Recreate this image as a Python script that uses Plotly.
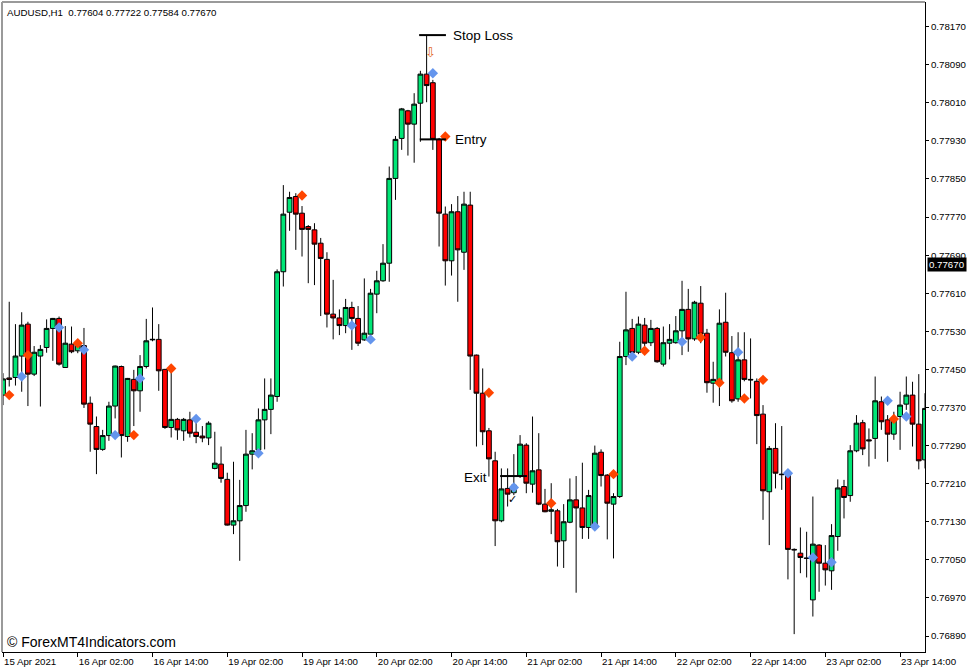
import plotly.graph_objects as go

# ---------------- data (AUDUSD H1) ----------------
bar_index = list(range(149))

opens = [0.77396,0.77432,0.77433,0.77478,0.77545,0.77440,0.77478,0.77496,0.77536,0.77557,
0.77454,0.77503,0.77489,0.77500,0.77379,0.77330,0.77282,0.77311,0.77373,0.77456,
0.77309,0.77429,0.77405,0.77456,0.77512,0.77513,0.77450,0.77328,0.77345,0.77321,
0.77344,0.77318,0.77310,0.77306,0.77242,0.77251,0.77219,0.77123,0.77132,0.77164,
0.77272,0.77281,0.77344,0.77366,0.77393,0.77655,0.77780,0.77813,0.77778,0.77750,
0.77743,0.77715,0.77681,0.77566,0.77558,0.77542,0.77580,0.77557,0.77512,0.77524,
0.77608,0.77636,0.77673,0.77851,0.77935,0.77993,0.77965,0.78009,0.78070,0.78052,
0.77933,0.77776,0.77678,0.77781,0.77696,0.77795,0.77480,0.77400,0.77321,0.77258,
0.77132,0.77200,0.77191,0.77226,0.77291,0.77209,0.77239,0.77167,0.77152,0.77153,
0.77090,0.77129,0.77176,0.77159,0.77118,0.77118,0.77276,0.77228,0.77167,0.77183,
0.77477,0.77536,0.77486,0.77543,0.77506,0.77536,0.77461,0.77505,0.77506,0.77531,
0.77576,0.77514,0.77589,0.77526,0.77421,0.77422,0.77549,0.77485,0.77388,0.77470,
0.77429,0.77425,0.77356,0.77193,0.77284,0.77230,0.77232,0.77072,0.77064,0.77054,
0.76966,0.77081,0.77043,0.77027,0.77099,0.77204,0.77185,0.77279,0.77338,0.77302,
0.77305,0.77382,0.77344,0.77314,0.77351,0.77377,0.77396,0.77335,0.77260]

highs = [0.77442,0.77592,0.77545,0.77570,0.77550,0.77499,0.77501,0.77555,0.77558,0.77561,
0.77541,0.77540,0.77512,0.77537,0.77393,0.77351,0.77323,0.77382,0.77458,0.77458,
0.77432,0.77449,0.77480,0.77556,0.77580,0.77545,0.77451,0.77452,0.77348,0.77348,
0.77361,0.77341,0.77331,0.77341,0.77319,0.77288,0.77233,0.77256,0.77218,0.77323,
0.77316,0.77368,0.77431,0.77431,0.77660,0.77837,0.77823,0.77820,0.77793,0.77753,
0.77757,0.77726,0.77696,0.77638,0.77576,0.77598,0.77592,0.77583,0.77641,0.77619,
0.77657,0.77713,0.77876,0.77940,0.77999,0.77995,0.78030,0.78077,0.78152,0.78058,
0.77936,0.77792,0.77797,0.77814,0.77823,0.77823,0.77481,0.77452,0.77327,0.77277,
0.77242,0.77242,0.77272,0.77312,0.77295,0.77351,0.77316,0.77199,0.77211,0.77157,
0.77167,0.77221,0.77226,0.77254,0.77197,0.77290,0.77282,0.77230,0.77190,0.77508,
0.77613,0.77556,0.77561,0.77558,0.77554,0.77539,0.77540,0.77545,0.77562,0.77636,
0.77619,0.77594,0.77625,0.77535,0.77466,0.77576,0.77611,0.77520,0.77528,0.77528,
0.77515,0.77431,0.77375,0.77289,0.77337,0.77331,0.77234,0.77074,0.77118,0.77109,
0.77183,0.77083,0.77081,0.77125,0.77219,0.77218,0.77291,0.77354,0.77344,0.77326,
0.77435,0.77393,0.77354,0.77361,0.77403,0.77435,0.77424,0.77440,0.77400]

lows = [0.77375,0.77414,0.77416,0.77403,0.77373,0.77436,0.77372,0.77485,0.77468,0.77458,
0.77453,0.77484,0.77484,0.77369,0.77277,0.77230,0.77279,0.77300,0.77347,0.77265,
0.77298,0.77331,0.77361,0.77452,0.77509,0.77405,0.77325,0.77307,0.77302,0.77300,
0.77307,0.77295,0.77297,0.77291,0.77240,0.77212,0.77122,0.77104,0.77048,0.77151,
0.77240,0.77276,0.77282,0.77314,0.77382,0.77624,0.77741,0.77701,0.77687,0.77631,
0.77627,0.77562,0.77538,0.77513,0.77522,0.77526,0.77491,0.77499,0.77510,0.77519,
0.77568,0.77634,0.77634,0.77806,0.77911,0.77899,0.77884,0.77928,0.78011,0.77911,
0.77708,0.77626,0.77647,0.77592,0.77659,0.77407,0.77288,0.77291,0.77225,0.77079,
0.77129,0.77162,0.77186,0.77222,0.77190,0.77191,0.77165,0.77150,0.77104,0.77036,
0.77033,0.77127,0.76981,0.77094,0.77094,0.77113,0.77204,0.77093,0.77053,0.77180,
0.77459,0.77478,0.77482,0.77499,0.77499,0.77464,0.77456,0.77471,0.77504,0.77480,
0.77487,0.77510,0.77505,0.77401,0.77380,0.77373,0.77477,0.77380,0.77382,0.77425,
0.77389,0.77293,0.77134,0.77081,0.77200,0.77197,0.77009,0.76894,0.77022,0.77013,
0.76931,0.76983,0.76996,0.76987,0.77069,0.77137,0.77172,0.77276,0.77270,0.77246,
0.77262,0.77323,0.77256,0.77302,0.77281,0.77365,0.77288,0.77240,0.77242]

closes = [0.77430,0.77429,0.77478,0.77543,0.77440,0.77486,0.77492,0.77536,0.77557,0.77461,
0.77505,0.77487,0.77501,0.77377,0.77335,0.77282,0.77311,0.77373,0.77457,0.77311,
0.77431,0.77405,0.77456,0.77510,0.77513,0.77447,0.77328,0.77345,0.77323,0.77345,
0.77316,0.77309,0.77306,0.77337,0.77253,0.77221,0.77123,0.77132,0.77164,0.77272,
0.77279,0.77344,0.77366,0.77396,0.77655,0.77776,0.77811,0.77776,0.77744,0.77744,
0.77713,0.77683,0.77566,0.77558,0.77542,0.77580,0.77557,0.77505,0.77526,0.77610,
0.77636,0.77673,0.77851,0.77933,0.77997,0.77965,0.78007,0.78070,0.78046,0.77933,
0.77778,0.77678,0.77781,0.77701,0.77797,0.77478,0.77400,0.77319,0.77262,0.77132,
0.77199,0.77188,0.77207,0.77293,0.77211,0.77237,0.77167,0.77151,0.77155,0.77088,
0.77130,0.77176,0.77159,0.77118,0.77185,0.77274,0.77227,0.77169,0.77183,0.77477,
0.77533,0.77485,0.77545,0.77505,0.77536,0.77466,0.77506,0.77513,0.77531,0.77576,
0.77514,0.77591,0.77524,0.77422,0.77429,0.77547,0.77486,0.77384,0.77470,0.77429,
0.77428,0.77353,0.77195,0.77284,0.77232,0.77229,0.77072,0.77071,0.77055,0.77053,
0.77083,0.77043,0.77029,0.77101,0.77201,0.77181,0.77279,0.77337,0.77283,0.77300,
0.77384,0.77340,0.77314,0.77344,0.77375,0.77396,0.77335,0.77258,0.77368]

# indicator signal diamonds
orange_idx = [1, 4, 12, 21, 27, 48, 71, 78, 88, 98, 103, 112, 115, 119, 122, 143]
orange_price = [0.77396, 0.77480, 0.77505, 0.77312, 0.77452, 0.77815, 0.77939, 0.77401,
                0.77169, 0.77230, 0.77489, 0.77517, 0.77422, 0.77389, 0.77428, 0.77346]
blue_idx = [3, 9, 13, 18, 22, 31, 41, 56, 59, 69, 82, 95, 101, 109, 118, 126, 130, 133, 142, 145]
blue_price = [0.77435, 0.77538, 0.77491, 0.77312, 0.77431, 0.77346, 0.77274, 0.77542, 0.77513,
              0.78072, 0.77202, 0.77120, 0.77477, 0.77508, 0.77486, 0.77232, 0.77055, 0.77045,
              0.77384, 0.77351]

# trade levels
stop_loss = 0.78152
entry = 0.77933
exit_level = 0.77226
current_price = 0.77670

# axes
x_tick_idx = [0, 12, 24, 36, 48, 60, 72, 84, 96, 108, 120, 132, 144]
x_tick_text = ["15 Apr 2021", "16 Apr 02:00", "16 Apr 14:00", "19 Apr 02:00", "19 Apr 14:00",
               "20 Apr 02:00", "20 Apr 14:00", "21 Apr 02:00", "21 Apr 14:00", "22 Apr 02:00",
               "22 Apr 14:00", "23 Apr 02:00", "23 Apr 14:00"]
y_tick_vals = [0.76890, 0.76970, 0.77050, 0.77130, 0.77210, 0.77290, 0.77370, 0.77450,
               0.77530, 0.77610, 0.77690, 0.77770, 0.77850, 0.77930, 0.78010, 0.78090, 0.78170]

FONT = "Liberation Sans, Arial, sans-serif"
GREEN = "#00E676"
RED = "#FF0000"

fig = go.Figure()
fig.add_trace(go.Candlestick(
    x=bar_index, open=opens, high=highs, low=lows, close=closes,
    increasing=dict(fillcolor=GREEN, line=dict(color="black", width=1)),
    decreasing=dict(fillcolor=RED, line=dict(color="black", width=1)),
    whiskerwidth=0, showlegend=False, hoverinfo="skip"))
fig.add_trace(go.Scatter(x=orange_idx, y=orange_price, mode="markers",
                         marker=dict(symbol="diamond", size=8, color="#FF4500"),
                         showlegend=False, hoverinfo="skip"))
fig.add_trace(go.Scatter(x=blue_idx, y=blue_price, mode="markers",
                         marker=dict(symbol="diamond", size=8, color="#6495ED"),
                         showlegend=False, hoverinfo="skip"))

shapes = [
    dict(type="line", xref="x", yref="y", x0=66.8, x1=71.1, y0=stop_loss, y1=stop_loss,
         line=dict(color="black", width=2)),
    dict(type="line", xref="x", yref="y", x0=66.9, x1=71.1, y0=entry, y1=entry,
         line=dict(color="black", width=2)),
    dict(type="line", xref="x", yref="y", x0=79.8, x1=84.1, y0=exit_level, y1=exit_level,
         line=dict(color="black", width=2)),
    # grey chart frame on left / top
    dict(type="line", xref="paper", yref="paper", x0=0, x1=0, y0=0, y1=1,
         line=dict(color="#9a9a9a", width=2)),
    dict(type="line", xref="paper", yref="paper", x0=0, x1=1, y0=1, y1=1,
         line=dict(color="#9a9a9a", width=2)),
]

annotations = [
    dict(xref="paper", yref="paper", x=0, y=1, xanchor="left", yanchor="top", xshift=3, yshift=-3,
         text="AUDUSD,H1  0.77604 0.77722 0.77584 0.77670", showarrow=False,
         font=dict(family=FONT, size=9.7, color="black")),
    dict(xref="paper", yref="paper", x=0, y=0, xanchor="left", yanchor="bottom", xshift=3, yshift=0,
         text="© ForexMT4Indicators.com", showarrow=False,
         font=dict(family=FONT, size=14, color="black")),
    dict(xref="x", yref="y", x=71.9, y=stop_loss, xanchor="left", yanchor="middle",
         text="Stop Loss", showarrow=False, font=dict(family=FONT, size=13.5, color="black")),
    dict(xref="x", yref="y", x=72.2, y=entry, xanchor="left", yanchor="middle",
         text="Entry", showarrow=False, font=dict(family=FONT, size=13.5, color="black")),
    dict(xref="x", yref="y", x=78.0, y=exit_level, xanchor="right", yanchor="middle", yshift=-1,
         text="Exit", showarrow=False, font=dict(family=FONT, size=13.5, color="black")),
    dict(xref="x", yref="y", x=68.6, y=0.78115, xanchor="center", yanchor="middle",
         text="⇩", showarrow=False, font=dict(family="DejaVu Sans", size=13, color="#E0641E")),
    dict(xref="x", yref="y", x=81.8, y=0.77176, xanchor="center", yanchor="middle",
         text="✓", showarrow=False, font=dict(family="DejaVu Sans", size=11, color="black")),
    dict(xref="paper", yref="y", x=1, y=current_price, xanchor="left", yanchor="middle", xshift=2,
         text="0.77670", showarrow=False, bgcolor="black", borderpad=1,
         font=dict(family=FONT, size=9.7, color="white")),
]

fig.update_layout(
    template="none",
    width=977, height=672,
    margin=dict(l=2, r=52, t=2, b=20),
    paper_bgcolor="white", plot_bgcolor="white",
    boxgap=0.15, boxgroupgap=0.1,
    shapes=shapes, annotations=annotations,
    showlegend=False,
    xaxis=dict(range=[-0.16, 148.0], showgrid=False, zeroline=False, automargin=False,
               rangeslider=dict(visible=False),
               tickmode="array", tickvals=x_tick_idx, ticktext=x_tick_text,
               ticks="outside", ticklen=4, tickcolor="black", tickwidth=1,
               ticklabelposition="outside right",
               showline=True, linecolor="black", linewidth=1,
               tickfont=dict(family=FONT, size=9.7, color="black")),
    yaxis=dict(range=[0.768565, 0.782215], side="right", showgrid=False, zeroline=False,
               automargin=False,
               tickmode="array", tickvals=y_tick_vals,
               ticktext=[f"{v:.5f}" for v in y_tick_vals],
               ticks="outside", ticklen=3, tickcolor="black", tickwidth=1,
               showline=True, linecolor="black", linewidth=1,
               tickfont=dict(family=FONT, size=9.7, color="black")),
)

fig.write_html("out.html", config={"displayModeBar": False},
               post_script="document.body.style.margin='0px';document.body.style.overflow='hidden';")
